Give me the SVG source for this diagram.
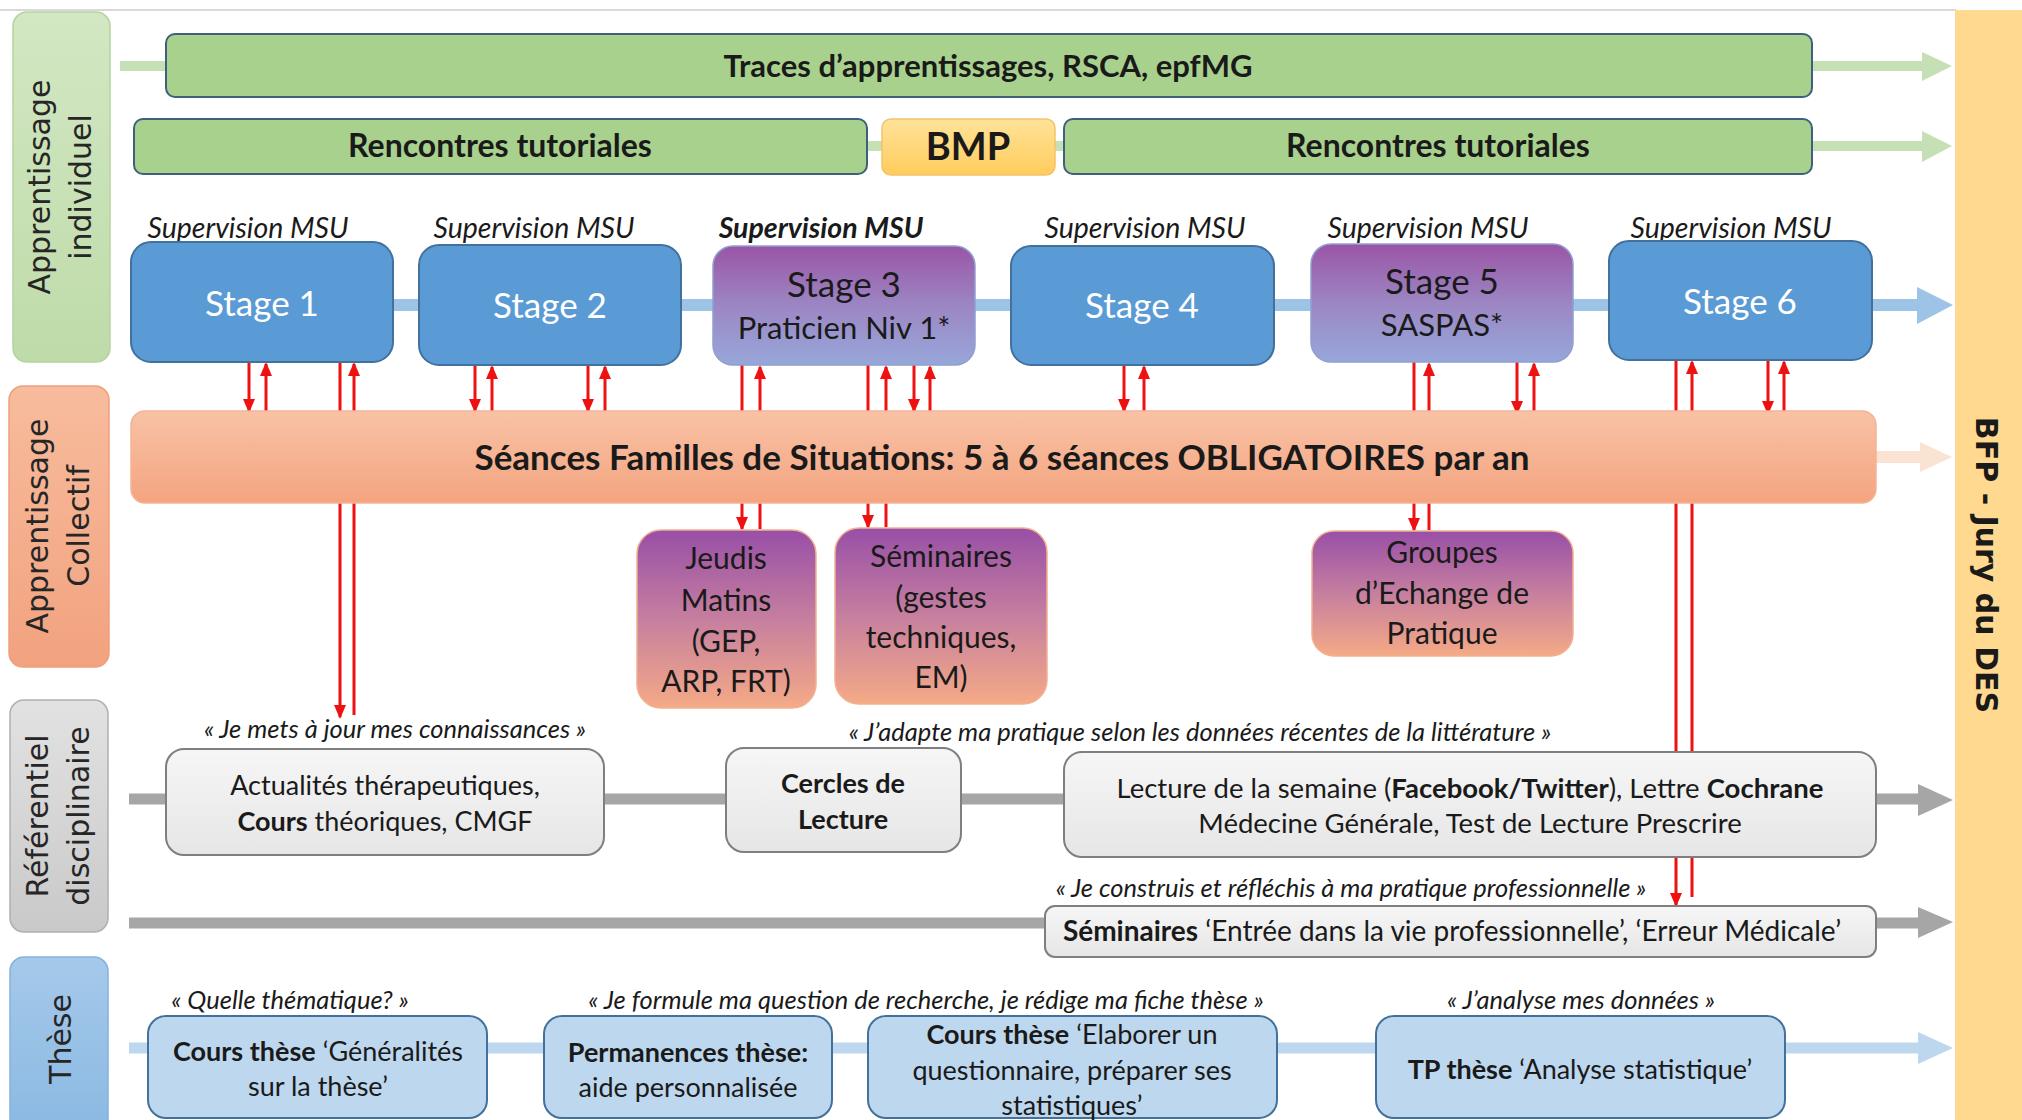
<svg xmlns="http://www.w3.org/2000/svg" width="2022" height="1120" viewBox="0 0 2022 1120">
<defs>
<linearGradient id="gGreenBand" x1="0" y1="0" x2="0" y2="1"><stop offset="0" stop-color="#d2e7c3"/><stop offset="1" stop-color="#bfdba9"/></linearGradient>
<linearGradient id="gSalmonBand" x1="0" y1="0" x2="0" y2="1"><stop offset="0" stop-color="#f7bc9d"/><stop offset="1" stop-color="#f2a27f"/></linearGradient>
<linearGradient id="gGrayBand" x1="0" y1="0" x2="0" y2="1"><stop offset="0" stop-color="#e2e2e2"/><stop offset="1" stop-color="#c9c9c9"/></linearGradient>
<linearGradient id="gBlueBand" x1="0" y1="0" x2="0" y2="1"><stop offset="0" stop-color="#a5c9ea"/><stop offset="1" stop-color="#8ab8e2"/></linearGradient>
<linearGradient id="gBMP" x1="0" y1="0" x2="0" y2="1"><stop offset="0" stop-color="#ffe39a"/><stop offset="1" stop-color="#ffcc5c"/></linearGradient>
<linearGradient id="gSeance" x1="0" y1="0" x2="0" y2="1"><stop offset="0" stop-color="#f8c2a6"/><stop offset="1" stop-color="#f4a47f"/></linearGradient>
<linearGradient id="gPurpleStage" x1="0" y1="0" x2="0" y2="1"><stop offset="0" stop-color="#9a55a6"/><stop offset="0.5" stop-color="#9c86c3"/><stop offset="1" stop-color="#97a7da"/></linearGradient>
<linearGradient id="gPurpleSalmon" x1="0" y1="0" x2="0" y2="1"><stop offset="0" stop-color="#984fa7"/><stop offset="0.5" stop-color="#c67f9f"/><stop offset="1" stop-color="#f5aa86"/></linearGradient>
<linearGradient id="gGrayBox" x1="0" y1="0" x2="0" y2="1"><stop offset="0" stop-color="#f6f6f6"/><stop offset="1" stop-color="#e6e6e6"/></linearGradient>
<marker id="ah" viewBox="0 0 14 12" refX="12" refY="6" markerWidth="14" markerHeight="12" markerUnits="userSpaceOnUse" orient="auto"><path d="M0,0 L14,6 L0,12 z" fill="#ee1111"/></marker>
</defs>
<style>
.side{font-family:"DejaVu Sans",Verdana,sans-serif;font-size:30px;fill:#262626;text-anchor:middle}
.t{font-family:Lato,"Liberation Sans",sans-serif;text-anchor:middle;fill:#1a1a1a}
.b{font-weight:bold}
.i{font-style:italic}
.w{fill:#ffffff}
.q{font-style:italic;font-size:25.5px}
.sup{font-style:italic;font-size:28.5px}
.redA{stroke:#ee1111;stroke-width:3;fill:none;marker-end:url(#ah)}
.green{fill:#a9d18e;stroke:#3f5f7f;stroke-width:2}
.stage{fill:#5b9bd5;stroke:#41719c;stroke-width:2}
.pstage{fill:url(#gPurpleStage);stroke:#8fa0cf;stroke-width:1.5}
.ps{fill:url(#gPurpleSalmon);stroke:#f2b08f;stroke-width:1.5}
.gbox{fill:url(#gGrayBox);stroke:#7f7f7f;stroke-width:2}
.tbox{fill:#bdd7ee;stroke:#41719c;stroke-width:2}
</style>

<line x1="0" y1="10" x2="1956" y2="10" stroke="#d9d9d9" stroke-width="2"/>

<g id="connectors">
  <line x1="120" y1="66" x2="1924" y2="66" stroke="#c5e0b4" stroke-width="10"/>
  <polygon points="1922,52 1952,66 1922,81" fill="#c5e0b4"/>
  <line x1="134" y1="146" x2="1924" y2="146" stroke="#c5e0b4" stroke-width="10"/>
  <polygon points="1922,131 1952,146 1922,162" fill="#c5e0b4"/>
  <line x1="131" y1="305" x2="1920" y2="305" stroke="#9dc3e6" stroke-width="12"/>
  <polygon points="1917,287 1953,305 1917,324" fill="#9dc3e6"/>
  <line x1="1870" y1="457" x2="1922" y2="457" stroke="#fbe3d4" stroke-width="12"/>
  <polygon points="1920,442 1952,457 1920,472" fill="#fbe3d4"/>
  <line x1="129" y1="799" x2="1920" y2="799" stroke="#a6a6a6" stroke-width="11"/>
  <polygon points="1918,784 1953,800 1918,816" fill="#a6a6a6"/>
  <line x1="129" y1="923" x2="1920" y2="923" stroke="#a6a6a6" stroke-width="11"/>
  <polygon points="1918,907 1953,922 1918,938" fill="#a6a6a6"/>
  <line x1="129" y1="1048" x2="1920" y2="1048" stroke="#bdd7ee" stroke-width="11"/>
  <polygon points="1918,1032 1953,1048 1918,1064" fill="#bdd7ee"/>
  <line class="redA" x1="249" y1="362" x2="249" y2="411"/>
  <line class="redA" x1="266" y1="411" x2="266" y2="364"/>
  <line class="redA" x1="340" y1="362" x2="340" y2="717"/>
  <line class="redA" x1="354" y1="715" x2="354" y2="364"/>
  <line class="redA" x1="475" y1="365" x2="475" y2="411"/>
  <line class="redA" x1="492" y1="413" x2="492" y2="367"/>
  <line class="redA" x1="588" y1="365" x2="588" y2="411"/>
  <line class="redA" x1="605" y1="413" x2="605" y2="367"/>
  <line class="redA" x1="742" y1="365" x2="742" y2="529"/>
  <line class="redA" x1="760" y1="529" x2="760" y2="367"/>
  <line class="redA" x1="868" y1="365" x2="868" y2="527"/>
  <line class="redA" x1="886" y1="527" x2="886" y2="367"/>
  <line class="redA" x1="914" y1="365" x2="914" y2="411"/>
  <line class="redA" x1="930" y1="411" x2="930" y2="367"/>
  <line class="redA" x1="1124" y1="365" x2="1124" y2="411"/>
  <line class="redA" x1="1144" y1="416" x2="1144" y2="367"/>
  <line class="redA" x1="1414" y1="362" x2="1414" y2="530"/>
  <line class="redA" x1="1429" y1="530" x2="1429" y2="364"/>
  <line class="redA" x1="1517" y1="362" x2="1517" y2="413"/>
  <line class="redA" x1="1534" y1="411" x2="1534" y2="364"/>
  <line class="redA" x1="1676" y1="360" x2="1676" y2="905"/>
  <line class="redA" x1="1692" y1="897" x2="1692" y2="362"/>
  <line class="redA" x1="1768" y1="360" x2="1768" y2="413"/>
  <line class="redA" x1="1784" y1="411" x2="1784" y2="362"/>
</g>

<g id="band-individuel">
  <rect x="13" y="12" width="97" height="350" rx="14" fill="url(#gGreenBand)" stroke="#b5d39f" stroke-width="1.5"/>
  <text class="side" transform="translate(61,187) rotate(-90)"><tspan x="0" y="-11">Apprentissage</tspan><tspan x="0" y="30">individuel</tspan></text>
</g>
<g id="band-collectif">
  <rect x="9" y="386" width="100" height="281" rx="14" fill="url(#gSalmonBand)" stroke="#eea07c" stroke-width="1.5"/>
  <text class="side" transform="translate(59,526) rotate(-90)"><tspan x="0" y="-11">Apprentissage</tspan><tspan x="0" y="30">Collectif</tspan></text>
</g>
<g id="band-referentiel">
  <rect x="10" y="700" width="98" height="232" rx="14" fill="url(#gGrayBand)" stroke="#b0b0b0" stroke-width="1.5"/>
  <text class="side" transform="translate(59,816) rotate(-90)"><tspan x="0" y="-11">Référentiel</tspan><tspan x="0" y="30">disciplinaire</tspan></text>
</g>
<g id="band-these">
  <rect x="10" y="957" width="98" height="180" rx="14" fill="url(#gBlueBand)" stroke="#84b2de" stroke-width="1.5"/>
  <text class="side" transform="translate(59,1039) rotate(-90)"><tspan x="0" y="12">Thèse</tspan></text>
</g>
<g id="band-bfp">
  <rect x="1955" y="10" width="67" height="1110" fill="#ffd98f"/>
  <text transform="translate(1986,565) rotate(90)" x="0" y="10" font-family="'DejaVu Sans',Verdana,sans-serif" font-weight="bold" font-size="30" fill="#1a1a1a" text-anchor="middle">BFP - Jury du DES</text>
</g>

<g id="traces">
  <rect class="green" x="166" y="34" width="1646" height="63" rx="9"/>
  <text class="t b" x="988" y="77" font-size="31">Traces d’apprentissages, RSCA, epfMG</text>
</g>
<g id="rencontres-1">
  <rect class="green" x="134" y="119" width="733" height="55" rx="9"/>
  <text class="t b" x="500" y="157" font-size="32">Rencontres tutoriales</text>
</g>
<g id="bmp">
  <rect x="882" y="119" width="173" height="56" rx="9" fill="url(#gBMP)" stroke="#f5c26b" stroke-width="1.5"/>
  <text class="t b" x="968" y="160" font-size="38">BMP</text>
</g>
<g id="rencontres-2">
  <rect class="green" x="1064" y="119" width="748" height="55" rx="9"/>
  <text class="t b" x="1438" y="157" font-size="32">Rencontres tutoriales</text>
</g>

<g id="stage1">
  <text class="t sup" x="248" y="238">Supervision MSU</text>
  <rect class="stage" x="131" y="242" width="262" height="120" rx="20"/>
  <text class="t w" x="262" y="316" font-size="35">Stage 1</text>
</g>
<g id="stage2">
  <text class="t sup" x="534" y="238">Supervision MSU</text>
  <rect class="stage" x="419" y="245" width="262" height="120" rx="20"/>
  <text class="t w" x="550" y="318" font-size="35">Stage 2</text>
</g>
<g id="stage3">
  <text class="t sup b" x="821" y="238">Supervision MSU</text>
  <rect class="pstage" x="713" y="246" width="262" height="119" rx="20"/>
  <text class="t" x="844" y="297" font-size="35">Stage 3</text>
  <text class="t" x="844" y="339" font-size="31">Praticien Niv 1*</text>
</g>
<g id="stage4">
  <text class="t sup" x="1145" y="238">Supervision MSU</text>
  <rect class="stage" x="1011" y="246" width="263" height="119" rx="20"/>
  <text class="t w" x="1142" y="318" font-size="35">Stage 4</text>
</g>
<g id="stage5">
  <text class="t sup" x="1428" y="238">Supervision MSU</text>
  <rect class="pstage" x="1311" y="244" width="262" height="118" rx="20"/>
  <text class="t" x="1442" y="294" font-size="35">Stage 5</text>
  <text class="t" x="1442" y="336" font-size="31">SASPAS*</text>
</g>
<g id="stage6">
  <text class="t sup" x="1731" y="238">Supervision MSU</text>
  <rect class="stage" x="1609" y="241" width="263" height="119" rx="20"/>
  <text class="t w" x="1740" y="314" font-size="35">Stage 6</text>
</g>

<g id="seances">
  <rect x="131" y="411" width="1745" height="92" rx="14" fill="url(#gSeance)" stroke="#f3b496" stroke-width="1.5"/>
  <text class="t b" x="1002" y="470" font-size="35">Séances Familles de Situations: 5 à 6 séances OBLIGATOIRES par an</text>
</g>

<g id="jeudis">
  <rect class="ps" x="637" y="530" width="179" height="178" rx="24"/>
  <text class="t" font-size="30"><tspan x="726" y="569">Jeudis</tspan><tspan x="726" y="611">Matins</tspan><tspan x="726" y="652">(GEP,</tspan><tspan x="726" y="692">ARP, FRT)</tspan></text>
</g>
<g id="seminaires-gestes">
  <rect class="ps" x="835" y="528" width="212" height="176" rx="24"/>
  <text class="t" font-size="30"><tspan x="941" y="567">Séminaires</tspan><tspan x="941" y="608">(gestes</tspan><tspan x="941" y="648">techniques,</tspan><tspan x="941" y="688">EM)</tspan></text>
</g>
<g id="groupes">
  <rect class="ps" x="1312" y="531" width="261" height="125" rx="22"/>
  <text class="t" font-size="30"><tspan x="1442" y="563">Groupes</tspan><tspan x="1442" y="604">d’Echange de</tspan><tspan x="1442" y="644">Pratique</tspan></text>
</g>

<g id="quotes">
  <text class="t q" x="395" y="738">« Je mets à jour mes connaissances »</text>
  <text class="t q" x="1200" y="741">«  J’adapte ma pratique selon les données récentes de la littérature  »</text>
  <text class="t q" x="1351" y="897">«  Je construis et réfléchis à ma pratique professionnelle  »</text>
  <text class="t q" x="290" y="1009">« Quelle thématique? »</text>
  <text class="t q" x="926" y="1009">« Je formule ma question de recherche, je rédige ma fiche thèse »</text>
  <text class="t q" x="1581" y="1009">« J’analyse mes données »</text>
</g>

<g id="actualites">
  <rect class="gbox" x="166" y="749" width="438" height="106" rx="18"/>
  <text class="t" font-size="27"><tspan x="385" y="795">Actualités thérapeutiques,</tspan><tspan x="385" y="831"><tspan font-weight="bold">Cours</tspan> théoriques, CMGF</tspan></text>
</g>
<g id="cercles">
  <rect class="gbox" x="726" y="748" width="235" height="104" rx="18"/>
  <text class="t b" font-size="27"><tspan x="843" y="793">Cercles de</tspan><tspan x="843" y="829">Lecture</tspan></text>
</g>
<g id="lecture">
  <rect class="gbox" x="1064" y="752" width="812" height="105" rx="18"/>
  <text class="t" font-size="27.5"><tspan x="1470" y="798">Lecture de la semaine (<tspan font-weight="bold">Facebook/Twitter</tspan>), Lettre <tspan font-weight="bold">Cochrane</tspan></tspan><tspan x="1470" y="833">Médecine Générale, Test de Lecture Prescrire</tspan></text>
</g>
<g id="seminaires-pro">
  <rect class="gbox" x="1045" y="906" width="831" height="51" rx="10"/>
  <text class="t" x="1452" y="941" font-size="28"><tspan font-weight="bold">Séminaires</tspan> ‘Entrée dans la vie professionnelle’, ‘Erreur Médicale’</text>
</g>

<g id="these-1">
  <rect class="tbox" x="148" y="1016" width="339" height="102" rx="18"/>
  <text class="t" font-size="27"><tspan x="318" y="1061"><tspan font-weight="bold">Cours thèse</tspan> ‘Généralités</tspan><tspan x="318" y="1096">sur la thèse’</tspan></text>
</g>
<g id="these-2">
  <rect class="tbox" x="544" y="1016" width="288" height="102" rx="18"/>
  <text class="t" font-size="27"><tspan x="688" y="1062" font-weight="bold">Permanences thèse:</tspan><tspan x="688" y="1097">aide personnalisée</tspan></text>
</g>
<g id="these-3">
  <rect class="tbox" x="868" y="1016" width="409" height="102" rx="18"/>
  <text class="t" font-size="27"><tspan x="1072" y="1044"><tspan font-weight="bold">Cours thèse</tspan> ‘Elaborer un</tspan><tspan x="1072" y="1080">questionnaire, préparer ses</tspan><tspan x="1072" y="1115">statistiques’</tspan></text>
</g>
<g id="these-4">
  <rect class="tbox" x="1376" y="1016" width="409" height="102" rx="18"/>
  <text class="t" x="1580" y="1079" font-size="27"><tspan font-weight="bold">TP thèse</tspan> ‘Analyse statistique’</text>
</g>
</svg>
